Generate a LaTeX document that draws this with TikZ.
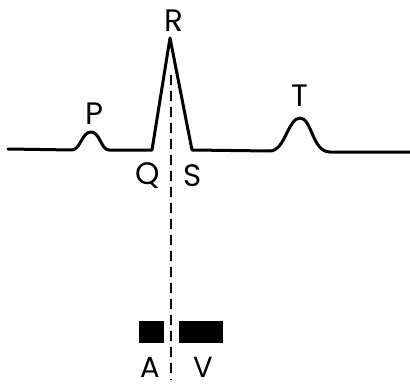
\documentclass[tikz,border=0pt]{standalone}
\usepackage{fontspec}
\setmainfont{Poppins}
\usepackage{tikz}
\tikzset{
    wave/.style={line width=3pt, line join=round, line cap=round},
    marker/.style={dash pattern=on 10pt off 6pt, line width=1.7pt},
    block/.style={fill=black, inner sep=0pt, minimum height=22pt},
    lbl/.style={font=\fontsize{31}{31}\selectfont, inner sep=0pt}
}

\begin{document}
\begin{tikzpicture}[x=1pt,y=-1pt]
    \useasboundingbox (0,0) rectangle (410,388);

    % Wave labels
    \node[lbl] (plabel) at (94,114) {P};
    \node[lbl] (rlabel) at (174,21) {R};
    \node[lbl] (tlabel) at (300,96) {T};
    \node[lbl] (qlabel) at (148,176) {Q};
    \node[lbl] (slabel) at (193,176) {S};

    % Atrial and ventricular blocks
    \node[block, minimum width=25pt] (atrial) at (151.5,332) {};
    \node[block, minimum width=44pt] (ventric) at (201,332) {};
    \node[lbl, font=\fontsize{29}{29}\selectfont, anchor=base] (alabel) at (150,377) {A};
    \node[lbl, font=\fontsize{29}{29}\selectfont, anchor=base] (vlabel) at (203,377) {V};

    \coordinate (rpeak) at (171,75);
    \coordinate (rfoot) at (171,380);

    % Trace
    \draw[wave] (8,149) -- (72,150)
        .. controls (80,150) and (82,132) .. (91,132)
        .. controls (100,132) and (101,150) .. (109,150)
        -- (152,150) -- (170,38) -- (192,150) -- (270,151)
        .. controls (285,151) and (288,118) .. (300,118)
        .. controls (312,118) and (312,152) .. (330,152)
        -- (410,152);

    \draw[marker] (rpeak) -- (rfoot);
\end{tikzpicture}
\end{document}
